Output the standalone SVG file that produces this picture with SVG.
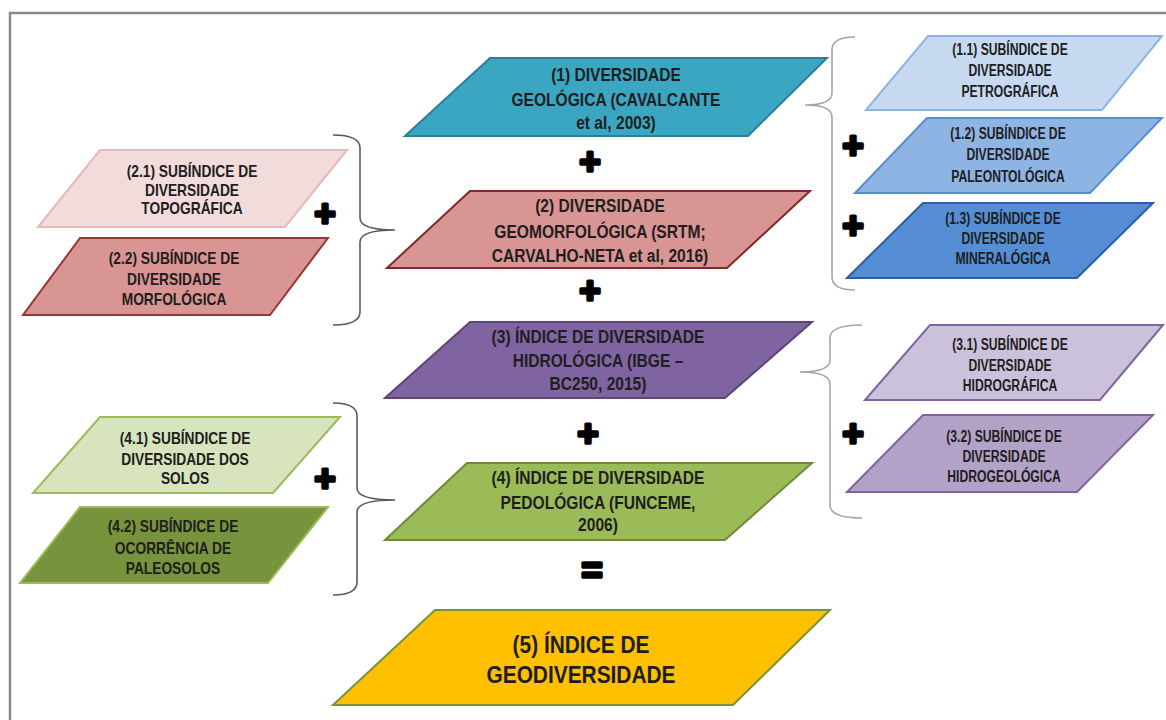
<svg xmlns="http://www.w3.org/2000/svg" width="1166" height="720" viewBox="0 0 1166 720">
<style>
text{font-family:"Liberation Sans",Arial,sans-serif;font-weight:bold;fill:#1e1e1e;text-anchor:middle}
.main{font-size:19px}
.sub{font-size:16px}
.big{font-size:24px}
.op{font-size:36px;stroke:#000;stroke-width:3.5;stroke-linejoin:round;fill:#000}
.brR{fill:none;stroke:#a6a6a6;stroke-width:1.6}
.brL{fill:none;stroke:#5a5a5a;stroke-width:1.6}
polygon{stroke-width:2}
</style>
<rect x="10" y="13" width="1170" height="720" fill="#fff" stroke="#8a8a8a" stroke-width="2.5"/>

<g id="connectors">
<path class="brR" d="M855,37 Q832,37 832,50 L832,93 Q832,105 805,105 Q832,105 832,117 L832,277 Q832,290 855,290"/>
<path class="brR" d="M862,325 Q830,325 830,338 L830,360 Q830,372 800,372 Q830,372 830,384 L830,505 Q830,518 862,518"/>
<path class="brL" d="M333,135 Q360,135 360,148 L360,218 Q360,230 395,230 Q360,230 360,242 L360,312 Q360,325 333,325"/>
<path class="brL" d="M333,403 Q357,403 357,416 L357,488 Q357,500 395,500 Q357,500 357,512 L357,582 Q357,595 333,595"/>
</g>

<g id="operators">
<text class="op" x="590" y="174">+</text>
<text class="op" x="590" y="303">+</text>
<text class="op" x="588" y="446">+</text>
<text class="op" x="592" y="583">=</text>
<text class="op" x="325" y="226">+</text>
<text class="op" x="325" y="491">+</text>
<text class="op" x="853" y="158">+</text>
<text class="op" x="853" y="238">+</text>
<text class="op" x="853" y="446">+</text>
</g>

<g id="n1">
<polygon points="490,58 827,58 748,136 405,136" fill="#3ba6c2" stroke="#2c7f95"/>
<text class="main" transform="translate(616 0) scale(0.82 1)"><tspan x="0" y="81">(1) DIVERSIDADE</tspan><tspan x="0" y="106">GEOLÓGICA (CAVALCANTE</tspan><tspan x="0" y="129">et al, 2003)</tspan></text>
</g>
<g id="n2">
<polygon points="470,191 810,191 727,268 387,268" fill="#d99594" stroke="#7f2a2a"/>
<text class="main" transform="translate(600 0) scale(0.82 1)"><tspan x="0" y="212">(2) DIVERSIDADE</tspan><tspan x="0" y="238">GEOMORFOLÓGICA (SRTM;</tspan><tspan x="0" y="262">CARVALHO-NETA  et al, 2016)</tspan></text>
</g>
<g id="n3">
<polygon points="470,322 812,322 725,398 385,398" fill="#8064a2" stroke="#5b4778"/>
<text class="main" transform="translate(598 0) scale(0.82 1)"><tspan x="0" y="343">(3) ÍNDICE DE DIVERSIDADE</tspan><tspan x="0" y="367">HIDROLÓGICA  (IBGE –</tspan><tspan x="0" y="390">BC250, 2015)</tspan></text>
</g>
<g id="n4">
<polygon points="467,463 812,463 725,540 385,540" fill="#9bbb59" stroke="#71893f"/>
<text class="main" transform="translate(598 0) scale(0.82 1)"><tspan x="0" y="484">(4) ÍNDICE DE DIVERSIDADE</tspan><tspan x="0" y="509">PEDOLÓGICA (FUNCEME,</tspan><tspan x="0" y="531">2006)</tspan></text>
</g>
<g id="n5">
<polygon points="435,610 830,610 733,705 333,705" fill="#ffc000" stroke="#77933c"/>
<text class="big" transform="translate(581 0) scale(0.87 1)"><tspan x="0" y="653">(5) ÍNDICE  DE</tspan><tspan x="0" y="683">GEODIVERSIDADE</tspan></text>
</g>

<g id="n11">
<polygon points="928,36 1162,36 1102,110 866,110" fill="#c6d9f1" stroke="#8eb4e3"/>
<text class="sub" transform="translate(1010 0) scale(0.76 1)"><tspan x="0" y="55">(1.1) SUBÍNDICE DE</tspan><tspan x="0" y="76">DIVERSIDADE</tspan><tspan x="0" y="97">PETROGRÁFICA</tspan></text>
</g>
<g id="n12">
<polygon points="927,118 1162,118 1090,193 855,193" fill="#8eb4e3" stroke="#558ed5"/>
<text class="sub" transform="translate(1008 0) scale(0.76 1)"><tspan x="0" y="139">(1.2) SUBÍNDICE DE</tspan><tspan x="0" y="160">DIVERSIDADE</tspan><tspan x="0" y="182">PALEONTOLÓGICA</tspan></text>
</g>
<g id="n13">
<polygon points="923,203 1153,203 1077,278 847,278" fill="#558ed5" stroke="#2f5f9a"/>
<text class="sub" transform="translate(1003 0) scale(0.76 1)"><tspan x="0" y="224">(1.3) SUBÍNDICE DE</tspan><tspan x="0" y="244">DIVERSIDADE</tspan><tspan x="0" y="264">MINERALÓGICA</tspan></text>
</g>

<g id="n21">
<polygon points="100,150 347,150 285,227 38,227" fill="#f2dcdb" stroke="#e6b9b8"/>
<text class="sub" transform="translate(192 0) scale(0.86 1)"><tspan x="0" y="177">(2.1) SUBÍNDICE DE</tspan><tspan x="0" y="196">DIVERSIDADE</tspan><tspan x="0" y="214">TOPOGRÁFICA</tspan></text>
</g>
<g id="n22">
<polygon points="80,238 328,238 270,315 23,315" fill="#d99594" stroke="#953735"/>
<text class="sub" transform="translate(174 0) scale(0.86 1)"><tspan x="0" y="264">(2.2) SUBÍNDICE DE</tspan><tspan x="0" y="285">DIVERSIDADE</tspan><tspan x="0" y="305">MORFOLÓGICA</tspan></text>
</g>

<g id="n31">
<polygon points="930,325 1163,325 1100,400 865,400" fill="#ccc1da" stroke="#8064a2"/>
<text class="sub" transform="translate(1010 0) scale(0.76 1)"><tspan x="0" y="350">(3.1) SUBÍNDICE DE</tspan><tspan x="0" y="371">DIVERSIDADE</tspan><tspan x="0" y="391">HIDROGRÁFICA</tspan></text>
</g>
<g id="n32">
<polygon points="923,415 1153,415 1077,492 847,492" fill="#b3a2c7" stroke="#8064a2"/>
<text class="sub" transform="translate(1004 0) scale(0.76 1)"><tspan x="0" y="442">(3.2) SUBÍNDICE DE</tspan><tspan x="0" y="462">DIVERSIDADE</tspan><tspan x="0" y="482">HIDROGEOLÓGICA</tspan></text>
</g>

<g id="n41">
<polygon points="100,417 340,417 273,493 33,493" fill="#d7e4bd" stroke="#9bbb59"/>
<text class="sub" transform="translate(185 0) scale(0.86 1)"><tspan x="0" y="444">(4.1) SUBÍNDICE DE</tspan><tspan x="0" y="465">DIVERSIDADE DOS</tspan><tspan x="0" y="484">SOLOS</tspan></text>
</g>
<g id="n42">
<polygon points="80,507 328,507 268,583 20,583" fill="#77933c" stroke="#9bbb59"/>
<text class="sub" transform="translate(173 0) scale(0.86 1)"><tspan x="0" y="532">(4.2) SUBÍNDICE DE</tspan><tspan x="0" y="554">OCORRÊNCIA DE</tspan><tspan x="0" y="574">PALEOSOLOS</tspan></text>
</g>
</svg>
